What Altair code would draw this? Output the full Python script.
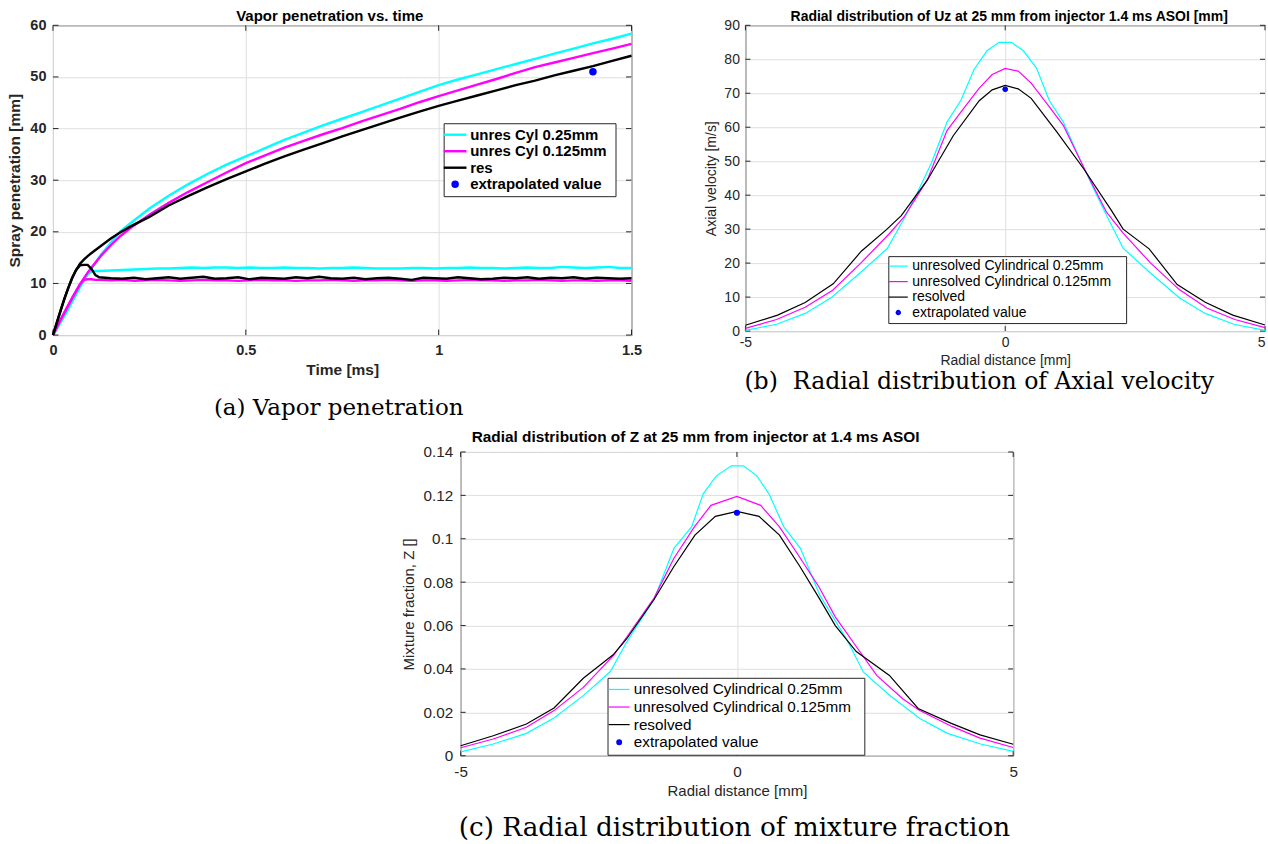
import altair as alt
import pandas as pd

SANS = "Liberation Sans"
SERIF = "DejaVu Serif"
TXT = "#262626"
FRAME = "#262626"
GRID = "#dfdfdf"
COLORS = ["#00ffff", "#ff00ff", "#000000", "#0000ff"]
LINE_SYM = "M-2,0L2,0"
DOT_SYM = ("M-0.45,0A0.45,0.45,0,1,1,0.45,0A0.45,0.45,0,1,1,-0.45,0Z"
           "M-0.25,0A0.25,0.25,0,1,1,0.25,0A0.25,0.25,0,1,1,-0.25,0Z"
           "M-0.08,0A0.08,0.08,0,1,1,0.08,0A0.08,0.08,0,1,1,-0.08,0Z")

# ---------------- panel (a) ----------------
A_NAMES = ["unres Cyl 0.25mm", "unres Cyl 0.125mm", "res", "extrapolated value"]
A_TITLE = "Vapor penetration vs. time"
A_CAPTION = "(a) Vapor penetration"
A_XTITLE = "Time [ms]"
A_YTITLE = "Spray penetration [mm]"
A_XTICKS = [0, 0.5, 1, 1.5]
A_YTICKS = [0, 10, 20, 30, 40, 50, 60]
A_EXTRAP = [1.4, 51.0]

A_T_VAP = [0, 0.01, 0.02, 0.03, 0.04, 0.05, 0.06, 0.07, 0.08, 0.09, 0.1, 0.125, 0.15, 0.175, 0.2,
           0.25, 0.3, 0.35, 0.4, 0.45, 0.5, 0.55, 0.6, 0.65, 0.7, 0.75, 0.8, 0.85, 0.9, 0.95,
           1.0, 1.05, 1.1, 1.15, 1.2, 1.25, 1.3, 1.35, 1.4, 1.45, 1.5]
A_CYAN_VAP = [0, 1.2, 2.5, 3.8, 5.1, 6.5, 7.9, 9.3, 10.6, 11.8, 12.9, 15.6, 17.9, 20.1, 21.6,
              24.5, 27.0, 29.2, 31.2, 33.0, 34.6, 36.2, 37.8, 39.2, 40.6, 41.9, 43.2, 44.5, 45.8, 47.1,
              48.4, 49.5, 50.5, 51.5, 52.5, 53.5, 54.5, 55.5, 56.5, 57.4, 58.4]
A_MAG_VAP = [0, 1.5, 3.0, 4.4, 5.8, 7.2, 8.5, 9.8, 11.0, 12.1, 13.1, 15.4, 17.4, 19.2, 20.7,
             23.3, 25.6, 27.7, 29.6, 31.5, 33.3, 34.8, 36.3, 37.6, 38.9, 40.1, 41.4, 42.6, 43.8, 45.1,
             46.3, 47.4, 48.5, 49.6, 50.8, 51.9, 52.8, 53.7, 54.6, 55.5, 56.4]
A_BLK_VAP = [0, 2.4, 4.8, 7.1, 9.2, 11.1, 12.6, 13.8, 14.6, 15.3, 15.9, 17.3, 18.7, 19.9, 21.0,
             22.9, 25.1, 26.9, 28.6, 30.2, 31.7, 33.2, 34.6, 35.9, 37.2, 38.5, 39.7, 40.9, 42.1, 43.3,
             44.4, 45.4, 46.4, 47.4, 48.4, 49.3, 50.3, 51.2, 52.1, 53.1, 54.1]

A_T_LIQ = [0, 0.01, 0.02, 0.03, 0.04, 0.05, 0.06, 0.07, 0.08, 0.09, 0.1, 0.11, 0.12,
           0.15, 0.18, 0.21, 0.24, 0.27, 0.3, 0.33, 0.36, 0.39, 0.42,
           0.45, 0.48, 0.51, 0.54, 0.57, 0.6, 0.63, 0.66, 0.69, 0.72,
           0.75, 0.78, 0.81, 0.84, 0.87, 0.9, 0.93, 0.96, 0.99, 1.02,
           1.05, 1.08, 1.11, 1.14, 1.17, 1.2, 1.23, 1.26, 1.29, 1.32,
           1.35, 1.38, 1.41, 1.44, 1.47, 1.5]
A_CYAN_LIQ = [0, 1.2, 2.5, 3.8, 5.1, 6.5, 7.9, 9.3, 10.6, 11.8, 12.3, 12.4, 12.4,
              12.5, 12.6, 12.7, 12.8, 12.9, 12.9, 13.0, 13.1, 13.0, 13.1,
              13.1, 13.0, 13.1, 13.0, 13.0, 13.1, 13.0, 13.0, 12.9, 13.0,
              13.0, 13.1, 13.0, 12.9, 12.9, 12.9, 13.0, 13.0, 12.9, 13.0,
              13.0, 13.1, 13.0, 13.0, 12.9, 13.0, 13.1, 13.0, 13.0, 13.2,
              13.1, 13.0, 13.1, 13.2, 13.0, 13.0]
A_MAG_LIQ = [0, 1.5, 3.0, 4.4, 5.8, 7.2, 8.5, 9.8, 10.7, 10.8, 10.8, 10.7, 10.7,
             10.6, 10.7, 10.5, 10.6, 10.7, 10.6, 10.5, 10.6, 10.7, 10.6,
             10.6, 10.5, 10.6, 10.7, 10.6, 10.6, 10.5, 10.6, 10.6, 10.7,
             10.6, 10.5, 10.6, 10.6, 10.7, 10.6, 10.5, 10.6, 10.6, 10.5,
             10.6, 10.7, 10.6, 10.6, 10.5, 10.6, 10.6, 10.7, 10.6, 10.5,
             10.6, 10.6, 10.5, 10.6, 10.6, 10.5]
A_BLK_LIQ = [0, 2.4, 4.8, 7.1, 9.2, 11.1, 12.6, 13.5, 13.6, 13.6, 12.8, 11.6, 11.2,
             11.0, 10.9, 11.1, 10.8, 11.0, 11.2, 10.9, 11.1, 11.3, 10.9,
             11.0, 11.2, 10.8, 11.1, 11.0, 10.9, 11.2, 11.0, 11.3, 11.0,
             10.9, 11.1, 10.8, 11.0, 11.1, 10.9, 10.7, 11.1, 11.0, 10.9,
             11.2, 11.0, 10.8, 10.9, 11.1, 11.0, 11.2, 10.9, 11.1, 11.0,
             11.2, 10.9, 11.1, 11.0, 10.9, 11.0]

# ---------------- panel (b) ----------------
B_NAMES = ["unresolved Cylindrical 0.25mm", "unresolved Cylindrical 0.125mm", "resolved", "extrapolated value"]
B_TITLE = "Radial distribution of Uz at 25 mm from injector 1.4 ms ASOI [mm]"
B_CAPTION = "(b)\u00a0 Radial distribution of Axial velocity"
B_XTITLE = "Radial distance [mm]"
B_YTITLE = "Axial velocity [m/s]"
B_XTICKS = [-5, 0, 5]
B_YTICKS = [0, 10, 20, 30, 40, 50, 60, 70, 80, 90]
B_EXTRAP = [0, 71.2]
B_X_CYAN = [-5, -4.4, -3.85, -3.35, -2.8, -2.27, -1.96, -1.7, -1.42, -1.12, -0.85, -0.6, -0.35, -0.12,
            0.12, 0.35, 0.6, 0.85, 1.12, 1.42, 1.7, 1.96, 2.27, 2.8, 3.35, 3.85, 4.4, 5]
B_CYAN = [0.2, 2.0, 5.2, 9.8, 17.0, 24.3, 32.7, 40.5, 49.5, 61.5, 68.0, 77.0, 82.5, 85.0,
          85.0, 82.5, 77.5, 67.8, 61.5, 51.2, 42.0, 33.7, 24.4, 17.0, 9.8, 5.2, 2.0, 0.2]
B_X_MAG = [-5, -4.4, -3.85, -3.32, -2.78, -2.24, -1.95, -1.5, -1.12, -0.85, -0.5, -0.25, 0,
           0.25, 0.5, 0.85, 1.12, 1.5, 1.95, 2.27, 2.8, 3.35, 3.88, 4.42, 5]
B_MAG = [0.8, 3.4, 7.0, 12.0, 20.0, 28.5, 33.5, 44.5, 59.0, 64.5, 71.5, 75.5, 77.3,
         76.5, 73.0, 66.0, 60.5, 48.5, 35.0, 28.8, 20.0, 12.2, 6.8, 3.4, 1.0]
B_X_BLK = [-5, -4.38, -3.85, -3.31, -2.77, -2.29, -2.0, -1.5, -1.0, -0.5, -0.25, 0,
           0.25, 0.5, 1.0, 1.5, 2.04, 2.27, 2.77, 3.31, 3.85, 4.38, 5]
B_BLK = [1.7, 4.7, 8.4, 13.9, 23.5, 29.8, 34.0, 44.4, 57.5, 67.8, 71.0, 72.3,
         71.3, 68.5, 58.5, 48.0, 35.6, 30.0, 24.2, 13.7, 8.5, 4.7, 1.8]

# ---------------- panel (c) ----------------
C_NAMES = B_NAMES
C_TITLE = "Radial distribution of Z at 25 mm from injector at 1.4 ms ASOI"
C_CAPTION = "(c) Radial distribution of mixture fraction"
C_XTITLE = "Radial distance [mm]"
C_YTITLE = "Mixture fraction, Z []"
C_XTICKS = [-5, 0, 5]
C_YTICKS = [0, 0.02, 0.04, 0.06, 0.08, 0.1, 0.12, 0.14]
C_EXTRAP = [0, 0.112]
C_X_CYAN = [-5, -4.41, -3.81, -3.31, -2.78, -2.29, -2.0, -1.5, -1.14, -0.82, -0.61, -0.37, -0.1,
            0.12, 0.36, 0.58, 0.85, 1.15, 1.5, 2.0, 2.29, 2.78, 3.31, 3.81, 4.41, 5]
C_CYAN = [0.0018, 0.0054, 0.0103, 0.0174, 0.0277, 0.0388, 0.0522, 0.072, 0.0956, 0.1055, 0.1207, 0.129, 0.1336,
          0.1336, 0.129, 0.1207, 0.1055, 0.0956, 0.074, 0.053, 0.0385, 0.0275, 0.0172, 0.0103, 0.0054, 0.0020]
C_X_MAG = [-5, -4.41, -3.81, -3.31, -2.78, -2.24, -2.0, -1.5, -1.14, -0.77, -0.47, 0,
           0.43, 0.77, 1.11, 1.48, 1.78, 2.15, 2.53, 3.0, 3.3, 3.9, 4.4, 5]
C_MAG = [0.0037, 0.0077, 0.0131, 0.0208, 0.0315, 0.046, 0.0545, 0.0727, 0.091, 0.1055, 0.1154, 0.1195,
         0.1154, 0.1055, 0.0925, 0.078, 0.064, 0.0507, 0.037, 0.0263, 0.021, 0.0134, 0.0081, 0.0038]
C_X_BLK = [-5, -4.41, -3.81, -3.31, -2.78, -2.24, -2.0, -1.5, -1.14, -0.76, -0.39, 0,
           0.4, 0.77, 1.14, 1.48, 1.78, 2.16, 2.76, 3.28, 3.88, 4.4, 5]
C_BLK = [0.0046, 0.0092, 0.0146, 0.022, 0.0357, 0.0465, 0.0537, 0.072, 0.0872, 0.1017, 0.1103, 0.1126,
         0.1103, 0.1017, 0.0872, 0.073, 0.060, 0.048, 0.037, 0.0218, 0.0149, 0.0096, 0.0053]


def build_panel(key, names, curves, point, xdom, xticks, ydom, yticks, xtitle, ytitle,
                title, caption, width, height, st):
    field = key + "_series"
    cscale = alt.Scale(domain=names, range=COLORS)
    sscale = alt.Scale(domain=names, range=[LINE_SYM, LINE_SYM, LINE_SYM, DOT_SYM])
    wt = st["weight"]
    common = dict(grid=True, gridColor=GRID, gridWidth=1, domain=False, ticks=False,
                  labelFlush=False, labelFont=SANS, labelFontSize=st["tick"], labelFontWeight=wt,
                  labelColor=TXT, titleFont=SANS, titleFontSize=st["atitle"], titleFontWeight=wt,
                  titleColor=TXT, labelExpr="'' + datum.value")
    xaxis_kw = dict(values=xticks, title=xtitle, labelPadding=st["xlpad"], titlePadding=st["xtpad"], **common)
    if st.get("last_right"):
        xaxis_kw["labelAlign"] = {"condition": {"test": "datum.value >= %s" % xticks[-1], "value": "right"},
                                  "value": "center"}
    x = alt.X("x:Q", scale=alt.Scale(domain=xdom, nice=False, zero=False), axis=alt.Axis(**xaxis_kw))
    y = alt.Y("y:Q", scale=alt.Scale(domain=ydom, nice=False, zero=False),
              axis=alt.Axis(values=yticks, title=ytitle, labelPadding=st["ylpad"],
                            titlePadding=st["ytpad"], **common))
    layers = []
    # inward tick marks on all four sides (MATLAB box style)
    L = st["tl"]
    xt = pd.DataFrame({"x": xticks})
    yt = pd.DataFrame({"y": yticks})
    layers.append(alt.Chart(xt).mark_rule(color=FRAME, strokeWidth=1).encode(
        x=x, y=alt.value(height), y2=alt.value(height - L)))
    layers.append(alt.Chart(xt).mark_rule(color=FRAME, strokeWidth=1).encode(
        x=x, y=alt.value(0), y2=alt.value(L)))
    layers.append(alt.Chart(yt).mark_rule(color=FRAME, strokeWidth=1).encode(
        y=y, x=alt.value(0), x2=alt.value(L)))
    layers.append(alt.Chart(yt).mark_rule(color=FRAME, strokeWidth=1).encode(
        y=y, x=alt.value(width), x2=alt.value(width - L)))
    for idx, (name, series_curves) in enumerate(zip(names[:3], curves)):
        rows = []
        for ci, (xs, ys) in enumerate(series_curves):
            for xv, yv in zip(xs, ys):
                rows.append({field: name, "curve": ci, "x": xv, "y": yv})
        layers.append(
            alt.Chart(pd.DataFrame(rows)).mark_line(strokeWidth=st["lw"], color=COLORS[idx]).encode(
                x=x, y=y, detail="curve:N"))
    pdf = pd.DataFrame({field: [names[3]], "x": [point[0]], "y": [point[1]]})
    layers.append(alt.Chart(pdf).mark_circle(size=st["dot"], opacity=1, color=COLORS[3]).encode(x=x, y=y))
    # trailing no-break spaces widen the legend box; the zero-width space keeps them from being trimmed
    pad_txt = "\u00a0" * st["npad"] + "\u200b"
    leg = alt.Legend(title=None, orient="none", legendX=st["lx"], legendY=st["ly"],
                     direction="vertical", fillColor="white", strokeColor=FRAME,
                     padding=st["lpad"], rowPadding=st["lrow"], labelFont=SANS,
                     labelFontSize=st["lfs"], labelFontWeight=wt, labelColor="black",
                     labelOffset=st["loff"], labelLimit=500, symbolSize=st["lsym"],
                     symbolStrokeWidth=st["lw"], symbolOpacity=1, cornerRadius=0,
                     labelExpr="datum.label + '%s'" % pad_txt)
    layers.append(
        alt.Chart(pdf).mark_point(filled=False, opacity=1, strokeWidth=st["lw"], size=st["lsym"]).encode(
            x=x, y=y,
            color=alt.Color(field + ":N", scale=cscale, legend=leg),
            shape=alt.Shape(field + ":N", scale=sscale, legend=leg)))
    layers.append(
        alt.Chart(pd.DataFrame({"s": [title]})).mark_text(
            font=SANS, fontSize=st["tfs"], fontWeight="bold", color="black",
            align=st["talign"], baseline="alphabetic").encode(
            text="s:N", x=alt.value(st["tx"]), y=alt.value(st["ty"])))
    layers.append(
        alt.Chart(pd.DataFrame({"s": [caption]})).mark_text(
            font=SERIF, fontSize=st["cfs"], color="black", align="center", baseline="middle").encode(
            text="s:N", x=alt.value(st["cx"]), y=alt.value(st["cy"])))
    return alt.layer(*layers).properties(width=width, height=height)


style_a = dict(weight="bold", tick=14.5, atitle=15.5, xlpad=8, xtpad=6, ylpad=7, ytpad=7, lw=2.4,
               dot=22, lx=391, ly=98, lpad=4, lrow=0.5, lfs=15, loff=7.5, lsym=129, npad=1, tl=5.5,
               tfs=15, talign="center", tx=277, ty=-4, cfs=23, cx=286, cy=383)
style_b = dict(weight="normal", tick=14, atitle=14, xlpad=4, xtpad=4, ylpad=6, ytpad=5, lw=1.2,
               dot=26, lx=143, ly=231, lpad=3, lrow=1.5, lfs=14, loff=7, lsym=90, npad=3, tl=5,
               last_right=True,
               tfs=14, talign="center", tx=264, ty=-4, cfs=23.6, cx=234, cy=357)
style_c = dict(weight="normal", tick=15.3, atitle=15, xlpad=9, xtpad=3, ylpad=8, ytpad=6, lw=1.2,
               dot=28, lx=147, ly=226, lpad=4, lrow=1.6, lfs=15.3, loff=7, lsym=110, npad=2, tl=5,
               tfs=15.4, talign="left", tx=11, ty=-10, cfs=26.3, cx=274, cy=376)

pa = build_panel("a", A_NAMES,
                 [[(A_T_VAP, A_CYAN_VAP), (A_T_LIQ, A_CYAN_LIQ)],
                  [(A_T_VAP, A_MAG_VAP), (A_T_LIQ, A_MAG_LIQ)],
                  [(A_T_VAP, A_BLK_VAP), (A_T_LIQ, A_BLK_LIQ)]],
                 A_EXTRAP, [0, 1.5], A_XTICKS, [0, 60], A_YTICKS, A_XTITLE, A_YTITLE,
                 A_TITLE, A_CAPTION, 579, 310, style_a)
pb = build_panel("b", B_NAMES,
                 [[(B_X_CYAN, B_CYAN)], [(B_X_MAG, B_MAG)], [(B_X_BLK, B_BLK)]],
                 B_EXTRAP, [-5, 5], B_XTICKS, [0, 90], B_YTICKS, B_XTITLE, B_YTITLE,
                 B_TITLE, B_CAPTION, 520, 306, style_b)
pc = build_panel("c", C_NAMES,
                 [[(C_X_CYAN, C_CYAN)], [(C_X_MAG, C_MAG)], [(C_X_BLK, C_BLK)]],
                 C_EXTRAP, [-5, 5], C_XTICKS, [0, 0.14], C_YTICKS, C_XTITLE, C_YTITLE,
                 C_TITLE, C_CAPTION, 553, 304, style_c)

spacer = alt.Chart(pd.DataFrame({"z": [0]})).mark_point(opacity=0).encode(
    x=alt.value(0), y=alt.value(0)).properties(
    width=294, height=10, view=alt.ViewBackground(stroke="transparent"))

ind = dict(x="independent", y="independent", color="independent", shape="independent")
row1 = alt.hconcat(pa, pb, spacing=114, bounds="flush").resolve_scale(**ind)
row2 = alt.hconcat(spacer, pc, spacing=114, bounds="flush").resolve_scale(**ind)
chart = alt.vconcat(row1, row2, spacing=8).resolve_scale(**ind)
chart = chart.properties(padding={"left": 7, "top": 8, "right": 0, "bottom": 0}, background="white")
chart = chart.configure_view(stroke=FRAME, strokeWidth=1)

chart.save("out.html", embed_options={"renderer": "svg", "actions": False})
